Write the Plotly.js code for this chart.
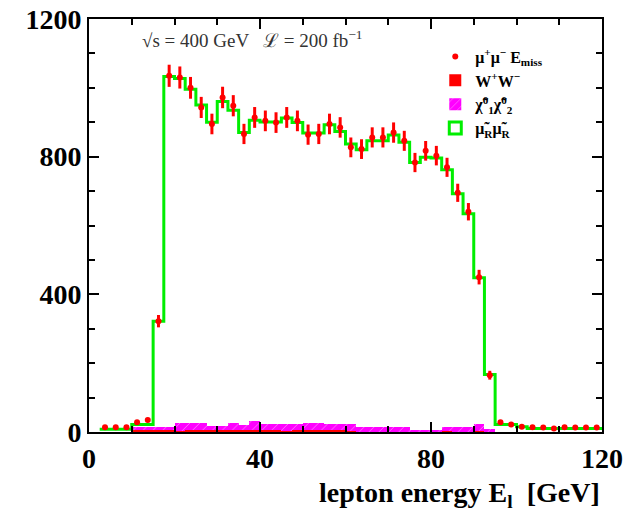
<!DOCTYPE html>
<html>
<head>
<meta charset="utf-8">
<script src="https://cdn.plot.ly/plotly-3.0.1.min.js"></script>
<style>html,body{margin:0;padding:0;background:#fff;}#chart{width:634px;height:518px;}</style>
</head>
<body>
<div id="chart"></div>
<script>
// Bin lower edges (GeV), 2.5 GeV bins from 0 to 120
const binLow = [0,2.5,5,7.5,10,12.5,15,17.5,20,22.5,25,27.5,30,32.5,35,37.5,40,42.5,45,47.5,
  50,52.5,55,57.5,60,62.5,65,67.5,70,72.5,75,77.5,80,82.5,85,87.5,90,92.5,95,97.5,
  100,102.5,105,107.5,110,112.5,115,117.5];
const binWidth = 2.5;

// Simulated data points (mu+ mu- + E_miss)
const dataPts = [null,14,14,14,28,35,322,1035,1030,1000,943,895,972,948,866,914,904,899,914,904,
  864,866,895,885,827,822,856,856,870,846,783,817,803,769,695,640,450,165,28,22,
  15,14,13,10,14,13,13,13];

// Total expectation histogram (smuon signal + background), green
const totalHist = [null,8,8,8,22,22,322,1033,1027,996,950,900,960,935,870,906,901,901,912,899,
  869,869,893,873,837,820,846,846,863,842,783,798,796,762,692,634,448,167,22,22,
  15,10,10,10,10,10,10,10];

// W+W- background (red filled)
const wwHist = [0,0,0,0,5,6,5,6,4,6,5,6,5,7,5,6,5,6,4,6,
  5,6,7,5,4,0,0,0,0,0,0,0,0,4,0,0,4,0,0,0,
  0,0,0,0,0,0,0,0];

// chargino/neutralino background (magenta hatched)
const chiHist = [0,0,0,0,15,15,14,14,27,27,27,17,17,27,20,33,22,22,22,22,
  27,27,22,22,22,15,15,15,15,15,6,6,6,15,15,15,22,10,0,0,
  0,0,0,0,0,0,0,0];

const legendNames = [
  'μ<sup>+</sup>μ<sup>−</sup> E<sub>miss</sub>',
  'W<sup>+</sup>W<sup>−</sup>',
  'χ̃<sup>0</sup><sub>1</sub>χ̃<sup>0</sup><sub>2</sub>',
  'μ̃<sub>R</sub>μ̃<sub>R</sub>'
];

const centers = binLow.map(v => v + binWidth / 2);
const stepX = binLow.concat([binLow[binLow.length - 1] + binWidth]);
const stepY = totalHist.concat([totalHist[totalHist.length - 1]]);

const traces = [
  {
    type: 'bar', x: binLow, y: chiHist, width: binWidth, offset: 0,
    marker: {color: '#ff00ff', line: {width: 0},
      pattern: {shape: '/', bgcolor: '#ff00ff', fgcolor: '#ffffff', size: 7, solidity: 0.12, fillmode: 'overlay'}},
    name: legendNames[2], legendrank: 3, hoverinfo: 'skip'
  },
  {
    type: 'bar', x: binLow, y: wwHist, width: binWidth, offset: 0,
    marker: {color: '#ff0000', line: {width: 0}},
    name: legendNames[1], legendrank: 2, hoverinfo: 'skip'
  },
  {
    type: 'scatter', mode: 'lines', x: stepX, y: stepY,
    line: {shape: 'hv', color: '#00ee00', width: 3},
    showlegend: false, hoverinfo: 'skip'
  },
  {
    type: 'bar', x: [null], y: [null],
    marker: {color: 'rgba(255,255,255,1)', line: {color: '#00ee00', width: 3}},
    name: legendNames[3], legendrank: 4
  },
  {
    type: 'scatter', mode: 'markers', x: centers, y: dataPts,
    marker: {color: '#ff0000', size: 6, symbol: 'circle'},
    error_y: {type: 'sqrt', color: '#ff0000', thickness: 3, width: 0},
    name: legendNames[0], legendrank: 1, hoverinfo: 'skip'
  }
];

const tickFont = {family: 'Liberation Serif', size: 28, color: '#000', weight: 'bold'};

const layout = {
  width: 634, height: 518,
  margin: {l: 89, r: 32, t: 19, b: 86},
  paper_bgcolor: '#fff', plot_bgcolor: '#fff',
  barmode: 'overlay', bargap: 0,
  showlegend: true,
  legend: {
    x: 0.675, y: 0.95, xanchor: 'left', yanchor: 'top',
    bgcolor: 'rgba(0,0,0,0)', borderwidth: 0,
    font: {family: 'Liberation Serif', size: 16, color: '#000', weight: 'bold'},
    tracegroupgap: 0, itemwidth: 30
  },
  xaxis: {
    range: [0, 120], tickvals: [0, 40, 80, 120], ticktext: ['0', '40', '80', '120'],
    ticks: 'inside', ticklen: 10, tickwidth: 2, tickcolor: '#000',
    minor: {dtick: 10, ticks: 'inside', ticklen: 6, tickwidth: 2, tickcolor: '#000'},
    showline: true, linecolor: '#000', linewidth: 2, mirror: 'allticks',
    showgrid: false, zeroline: false, tickfont: tickFont
  },
  yaxis: {
    range: [0, 1200], tickvals: [0, 400, 800, 1200], ticktext: ['0', '400', '800', '1200'],
    ticks: 'inside', ticklen: 10, tickwidth: 2, tickcolor: '#000',
    minor: {dtick: 100, ticks: 'inside', ticklen: 6, tickwidth: 2, tickcolor: '#000'},
    showline: true, linecolor: '#000', linewidth: 2, mirror: 'allticks',
    showgrid: false, zeroline: false, tickfont: tickFont
  },
  annotations: [
    {
      text: '√s = 400 GeV   ℒ = 200 fb<sup>−1</sup>',
      xref: 'paper', yref: 'paper', x: 0.1, y: 0.952, xanchor: 'left', yanchor: 'middle',
      showarrow: false, font: {family: 'Liberation Serif', size: 19, color: '#333'}
    },
    {
      text: 'lepton energy E<sub>l</sub>  [GeV]',
      xref: 'paper', yref: 'paper', x: 1.0, y: -0.105, xanchor: 'right', yanchor: 'top',
      showarrow: false, font: {family: 'Liberation Serif', size: 28, color: '#000', weight: 'bold'}
    }
  ]
};

Plotly.newPlot('chart', traces, layout, {staticPlot: true, displayModeBar: false});
</script>
</body>
</html>
